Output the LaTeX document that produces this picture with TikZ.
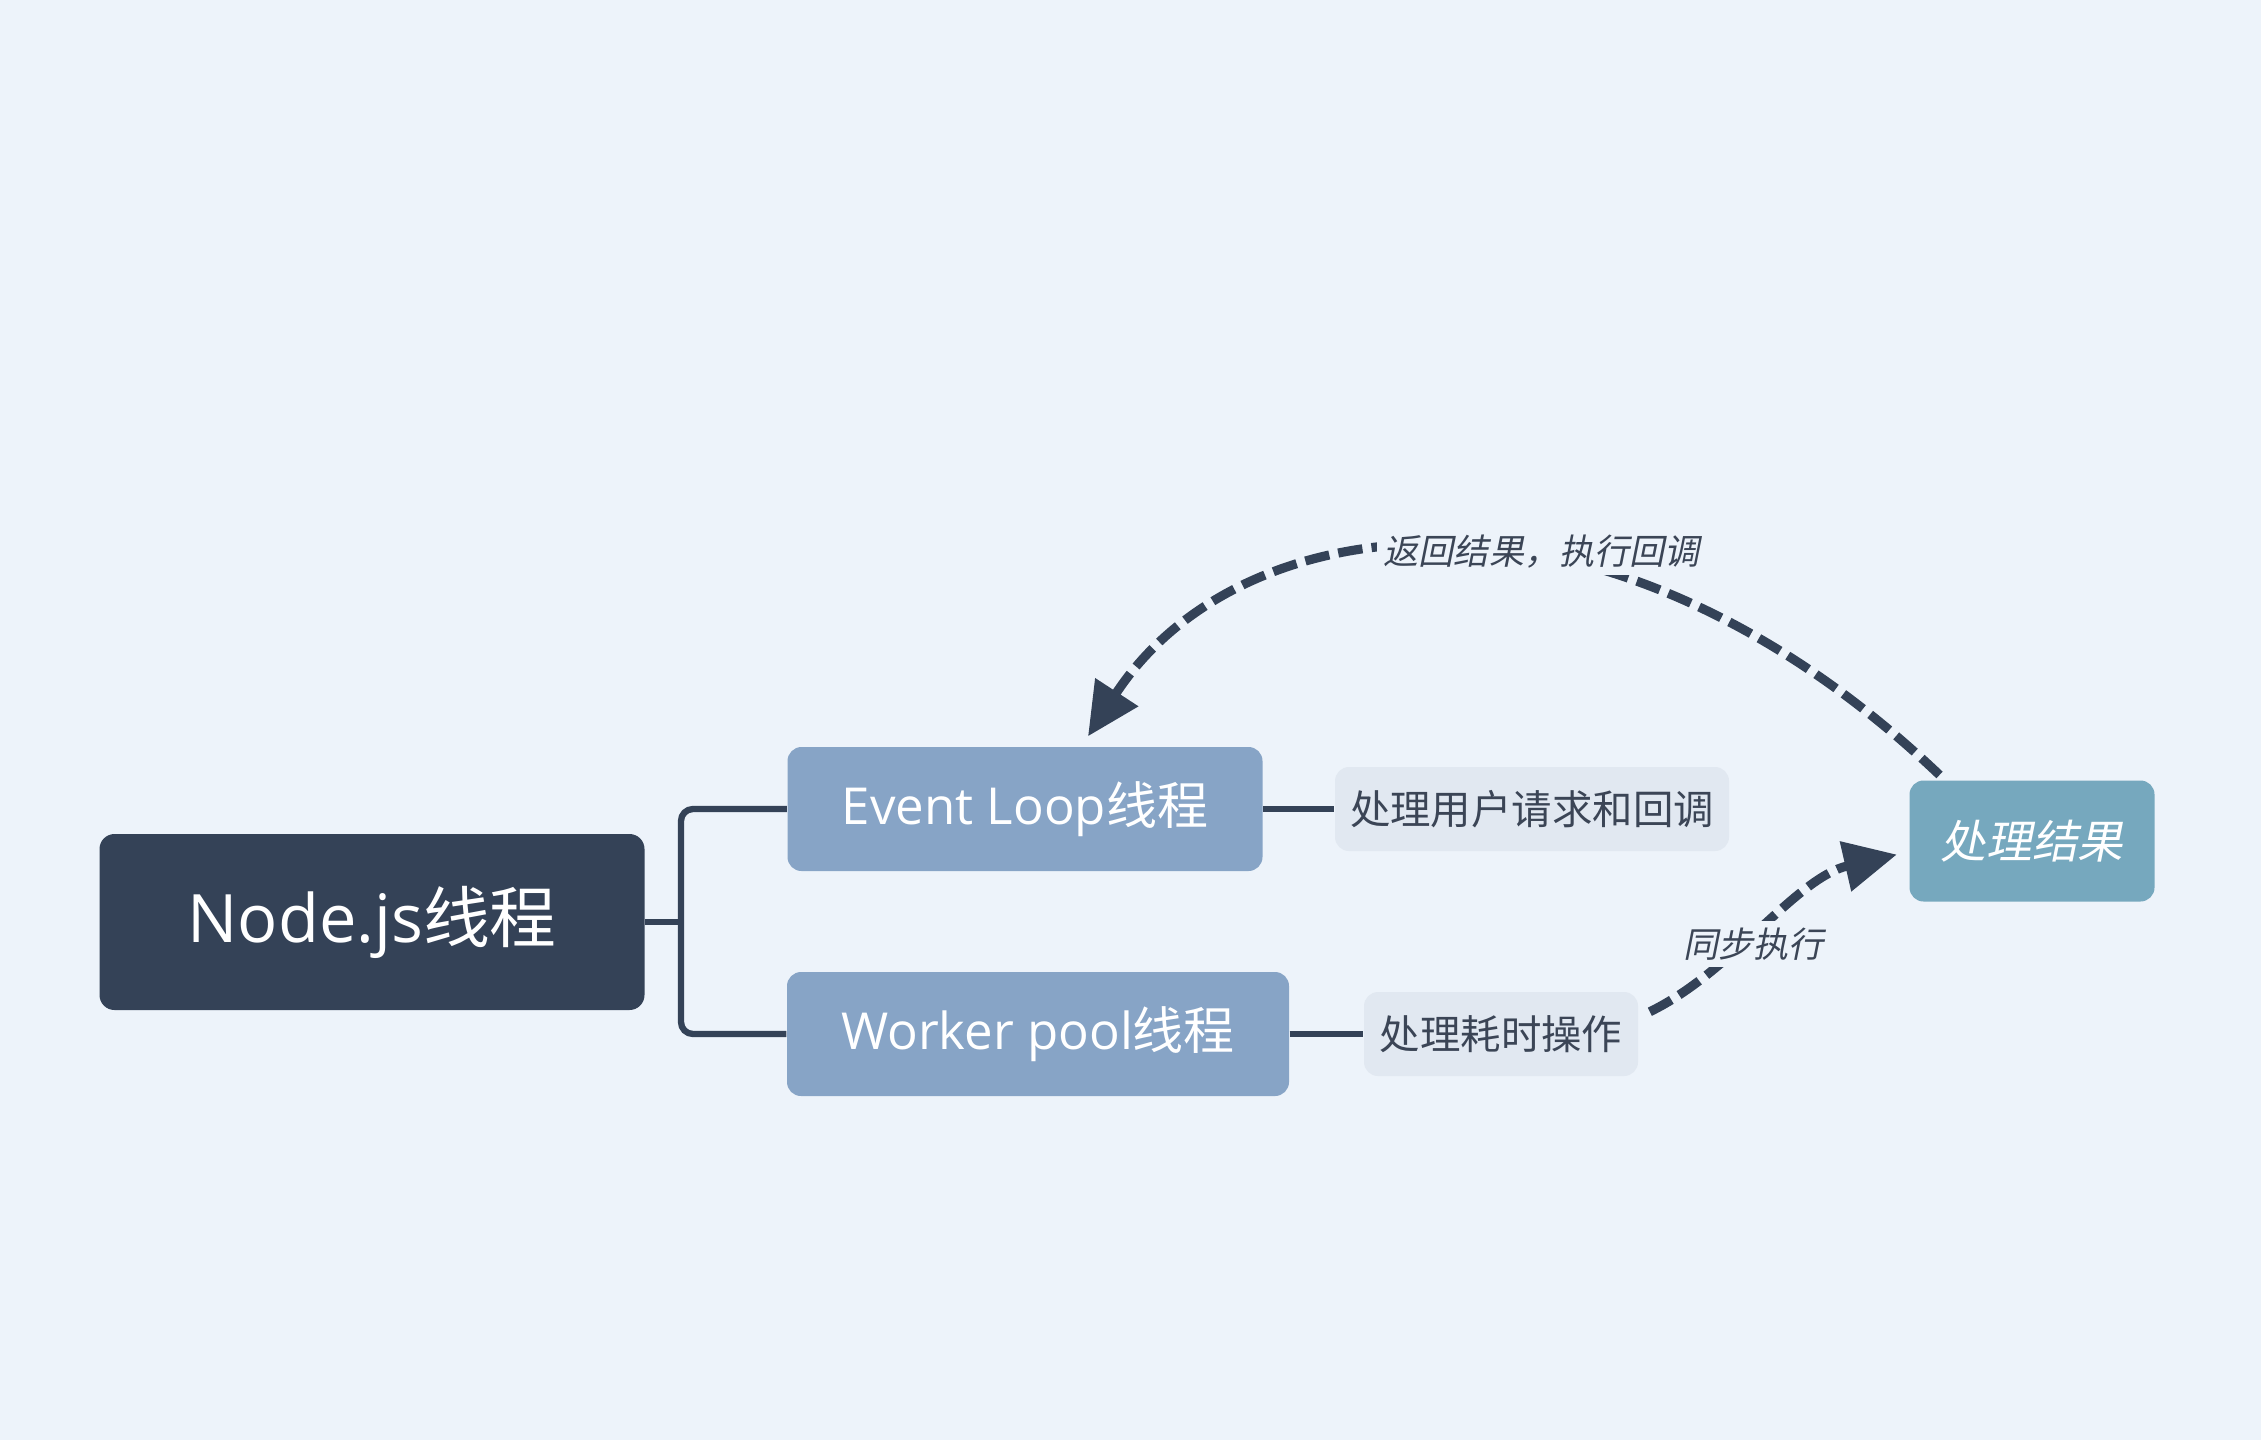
\documentclass[tikz,border=0pt]{standalone}
\usepackage{fontspec}
\setmainfont{Open Sans}
\newfontfamily\cjk{Noto Sans CJK SC}
\newfontfamily\cjkit[FakeSlant=0.2]{Noto Sans CJK SC}
\usetikzlibrary{arrows.meta}
\definecolor{bgblue}{HTML}{EDF3FA}
\definecolor{rootdark}{HTML}{344257}
\definecolor{threadblue}{HTML}{87A4C6}
\definecolor{taskgray}{HTML}{E1E8F1}
\definecolor{resteal}{HTML}{76A8BE}
\definecolor{inkgray}{HTML}{3B4556}
\newcommand{\zh}[1]{{\cjk #1}}
\tikzstyle{rootbox}=[rectangle, rounded corners=.15cm, fill=rootdark, text=white, minimum width=5.45cm, minimum height=1.76cm, font=\fontsize{19}{22}\selectfont]
\tikzstyle{threadbox}=[rectangle, rounded corners=.14cm, fill=threadblue, text=white, minimum height=1.24cm, font=\fontsize{14.5}{17}\selectfont]
\tikzstyle{taskbox}=[rectangle, rounded corners=.14cm, fill=taskgray, text=inkgray, minimum height=.84cm, font=\fontsize{11.5}{14}\selectfont\cjk]
\tikzstyle{resbox}=[rectangle, rounded corners=.14cm, fill=resteal, text=white, minimum width=2.45cm, minimum height=1.21cm, font=\fontsize{13}{16}\selectfont\cjkit]
\tikzstyle{branch}=[draw=rootdark, line width=1.8pt]
\tikzstyle{flow}=[draw=rootdark, line width=2.6pt, dash pattern=on 7pt off 2.6pt, -{Triangle[length=15pt,width=14pt]}]
\tikzstyle{flowtext}=[fill=bgblue, inner sep=2pt, text=inkgray, font=\fontsize{10}{12}\selectfont\cjkit]

\begin{document}
\begin{tikzpicture}
  \fill[bgblue] (0,0) rectangle (22.61,-14.40);
  \useasboundingbox (0,0) rectangle (22.61,-14.40);
  \node[rootbox] (root) at (3.72,-9.22) {Node.js\zh{线程}};
  \node[threadbox, minimum width=4.75cm] (loop) at (10.25,-8.09) {Event Loop\zh{线程}};
  \node[threadbox, minimum width=5.02cm] (pool) at (10.38,-10.34) {Worker pool\zh{线程}};
  \node[taskbox, minimum width=3.94cm] (usertask) at (15.32,-8.09) {处理用户请求和回调};
  \node[taskbox, minimum width=2.74cm] (slowtask) at (15.01,-10.34) {处理耗时操作};
  \node[resbox] (result) at (20.32,-8.41) {处理结果};
  \coordinate (fork) at (6.81,-9.22);
  \draw[branch] (root.east) -- (fork);
  \draw[branch, rounded corners=.12cm] (loop.west) -| (fork) |- (pool.west);
  \draw[branch] (loop.east) -- (usertask.west);
  \draw[branch] (pool.east) -- (slowtask.west);
  \draw[flow, shorten <=2pt, shorten >=3.4pt] (result.145) .. controls +(-3.36,3.2) and +(1.6,2.45) .. node[flowtext, pos=.4, yshift=.08cm] (backlbl) {返回结果，执行回调} (loop.48);
  \draw[flow, shorten <=3.5pt, shorten >=3.5pt] (slowtask.7) .. controls +(.93,.45) and +(-1.13,-.26) .. node[flowtext, pos=.45, yshift=-.07cm] (synclbl) {同步执行} (result.185);
\end{tikzpicture}
\end{document}
